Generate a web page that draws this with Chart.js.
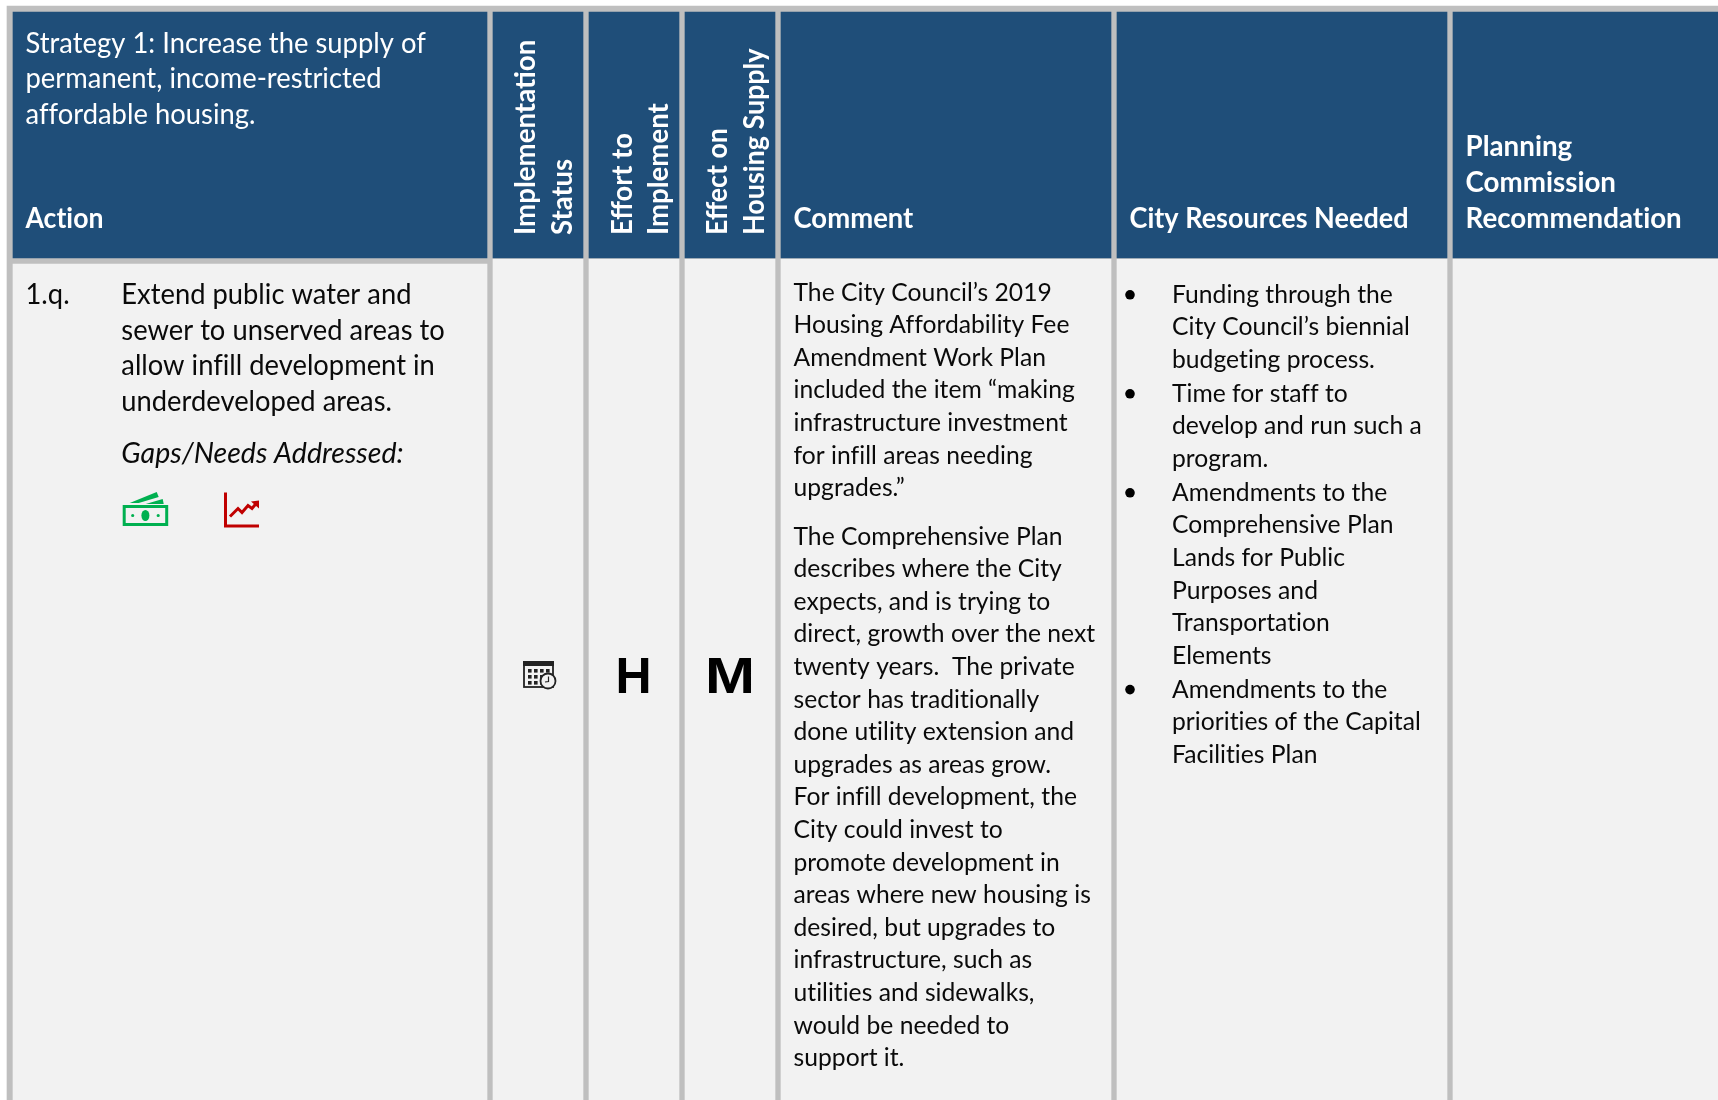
<!DOCTYPE html>
<html>
<head>
<meta charset="utf-8">
<title>Strategy 1 action table</title>
<script src="https://cdn.jsdelivr.net/npm/chart.js@4"></script>
<style>
  html, body { margin: 0; padding: 0; background: #fff; }
  canvas { display: block; }
</style>
</head>
<body>
<canvas id="tableChart" width="1718" height="1100"></canvas>
<script>
// table data
var columnLefts = [13, 493, 589, 685, 781, 1117, 1453];
var columnRights = [487, 583, 679, 775, 1111, 1447, 1718];
var headerBand = [12, 258];
var bodyBands = [[264, 1100], [259, 1100], [259, 1100], [259, 1100], [259, 1100], [259, 1100], [259, 1100]];

var strategyLines = ['Strategy 1: Increase the supply of', 'permanent, income-restricted', 'affordable housing.'];
var headerAction = ['Action'];
var headerStatus = ['Implementation', 'Status'];
var headerEffort = ['Effort to', 'Implement'];
var headerEffect = ['Effect on', 'Housing Supply'];
var headerComment = ['Comment'];
var headerResources = ['City Resources Needed'];
var headerPlanning = ['Planning', 'Commission', 'Recommendation'];

var actionNumber = '1.q.';
var actionLines = ['Extend public water and', 'sewer to unserved areas to', 'allow infill development in', 'underdeveloped areas.'];
var gapsLabel = 'Gaps/Needs Addressed:';
var effortValue = 'H';
var effectValue = 'M';

var commentFirst = ['The City Council\u2019s 2019', 'Housing Affordability Fee', 'Amendment Work Plan', 'included the item \u201Cmaking',
  'infrastructure investment', 'for infill areas needing', 'upgrades.\u201D'];
var commentSecond = ['The Comprehensive Plan', 'describes where the City', 'expects, and is trying to', 'direct, growth over the next',
  'twenty years.  The private', 'sector has traditionally', 'done utility extension and', 'upgrades as areas grow.',
  'For infill development, the', 'City could invest to', 'promote development in', 'areas where new housing is',
  'desired, but upgrades to', 'infrastructure, such as', 'utilities and sidewalks,', 'would be needed to', 'support it.'];

var resourceItems = [
  ['Funding through the', 'City Council\u2019s biennial', 'budgeting process.'],
  ['Time for staff to', 'develop and run such a', 'program.'],
  ['Amendments to the', 'Comprehensive Plan', 'Lands for Public', 'Purposes and', 'Transportation', 'Elements'],
  ['Amendments to the', 'priorities of the Capital', 'Facilities Plan']
];

var BLUE = '#1F4E79', GRID = '#BFBFBF', CELL = '#F2F2F2', INK = '#0a0a0a';

// one floating bar per cell, widths come from the column edges
function cellDataset(left, right, band, color) {
  return {
    data: [{ x: (left + right) / 2, y: band }],
    backgroundColor: color,
    barThickness: right - left,
    borderWidth: 0,
    grouped: false
  };
}

var datasets = [];
columnLefts.forEach(function(left, i) {
  datasets.push(cellDataset(left, columnRights[i], headerBand, BLUE));
  datasets.push(cellDataset(left, columnRights[i], bodyBands[i], CELL));
});
// grid behind everything (chart.js paints dataset 0 last)
datasets.push(cellDataset(7, 1718, [6, 1100], GRID));

var FONT = 'Lato, Carlito, "Noto Sans", sans-serif';

function putText(ctx, text, x, y, font, color, squeeze) {
  ctx.save();
  ctx.font = font;
  ctx.letterSpacing = '0.01px'; // stops Lato's fi/ti ligatures
  ctx.fillStyle = color;
  ctx.textBaseline = 'alphabetic';
  ctx.translate(x, y);
  ctx.scale(squeeze, 1);
  ctx.fillText(text, 0, 0);
  ctx.restore();
}

function putLines(ctx, lines, x, y, pitch, font, color, squeeze) {
  lines.forEach(function(line, i) {
    putText(ctx, line, x, y + i * pitch, font, color, squeeze);
  });
}

function putRotated(ctx, lines, xs, bottom, font, squeezes) {
  lines.forEach(function(line, i) {
    ctx.save();
    ctx.font = font;
    ctx.fillStyle = '#fff';
    ctx.translate(xs[i], bottom);
    ctx.rotate(-Math.PI / 2);
    ctx.scale(squeezes[i], 1);
    ctx.fillText(line, 0, 0);
    ctx.restore();
  });
}

function moneyIcon(ctx, x, y) {
  ctx.save();
  ctx.translate(x, y);
  ctx.strokeStyle = ctx.fillStyle = '#00B050';
  ctx.lineWidth = 3;
  ctx.strokeRect(1.5, 14.5, 42.5, 18);
  ctx.beginPath();
  ctx.ellipse(22.7, 23.5, 4, 5.5, 0, 0, Math.PI * 2);
  ctx.fill();
  ctx.beginPath();
  ctx.arc(10, 23.5, 1.6, 0, Math.PI * 2);
  ctx.arc(35.5, 23.5, 1.6, 0, Math.PI * 2);
  ctx.fill();
  ctx.beginPath();
  ctx.moveTo(7, 11); ctx.lineTo(34, 0); ctx.lineTo(36, 5); ctx.lineTo(16, 11);
  ctx.closePath();
  ctx.fill();
  ctx.beginPath();
  ctx.moveTo(23, 12); ctx.lineTo(40, 7); ctx.lineTo(41, 12);
  ctx.closePath();
  ctx.fill();
  ctx.restore();
}

function growthIcon(ctx, x, y) {
  ctx.save();
  ctx.translate(x, y);
  ctx.strokeStyle = ctx.fillStyle = '#C00000';
  ctx.lineWidth = 3;
  ctx.beginPath();
  ctx.moveTo(1.5, 0); ctx.lineTo(1.5, 33.5); ctx.lineTo(35, 33.5);
  ctx.stroke();
  ctx.beginPath();
  ctx.moveTo(6, 24); ctx.lineTo(14, 16); ctx.lineTo(18, 20); ctx.lineTo(24, 13); ctx.lineTo(28, 16); ctx.lineTo(33, 10);
  ctx.stroke();
  ctx.beginPath();
  ctx.moveTo(27, 9); ctx.lineTo(35, 8); ctx.lineTo(35, 16);
  ctx.closePath();
  ctx.fill();
  ctx.restore();
}

function calendarIcon(ctx, x, y) {
  ctx.save();
  ctx.translate(x, y);
  ctx.strokeStyle = ctx.fillStyle = '#222';
  ctx.lineWidth = 1.8;
  ctx.strokeRect(1, 1, 29, 25);
  ctx.fillRect(0, 0, 31, 5);
  for (var r = 0; r < 3; r++) {
    for (var c = 0; c < 4; c++) {
      if (r > 0 && c > 2) continue;
      ctx.fillRect(5 + c * 6, 8 + r * 6, 3.6, 3.6);
    }
  }
  ctx.beginPath();
  ctx.arc(25, 20, 7.5, 0, Math.PI * 2);
  ctx.fillStyle = CELL;
  ctx.fill();
  ctx.stroke();
  ctx.lineWidth = 1.2;
  ctx.beginPath();
  ctx.moveTo(25.5, 15.5); ctx.lineTo(25.5, 20.5); ctx.lineTo(22, 21);
  ctx.stroke();
  ctx.restore();
}

// text and icons sit on top of the cells, anchored on the x scale
var tableText = {
  id: 'tableText',
  afterDatasetsDraw: function(chart) {
    var ctx = chart.ctx;
    var sx = chart.scales.x, sy = chart.scales.y;
    function left(i, pad) { return sx.getPixelForValue(columnLefts[i]) + pad; }
    var head = '28px ' + FONT, headBold = 'bold 28px ' + FONT;
    var big = '28px ' + FONT, small = '25.4px ' + FONT;
    var headFit = 0.978, bodyFit = 0.976, smallFit = 0.972;

    putLines(ctx, strategyLines, left(0, 12.5), sy.getPixelForValue(52.8), 35.5, head, '#fff', headFit);
    putLines(ctx, headerAction, left(0, 12.5), sy.getPixelForValue(227.8), 0, headBold, '#fff', 0.95);
    putRotated(ctx, headerStatus, [535, 571.5], 235, headBold, [0.988, 0.98]);
    putRotated(ctx, headerEffort, [631.5, 668], 235, headBold, [0.975, 0.985]);
    putRotated(ctx, headerEffect, [727, 764], 235, headBold, [0.955, 0.96]);
    putLines(ctx, headerComment, left(4, 12.5), sy.getPixelForValue(227.8), 0, headBold, '#fff', 0.98);
    putLines(ctx, headerResources, left(5, 12.5), sy.getPixelForValue(227.8), 0, headBold, '#fff', 0.965);
    putLines(ctx, headerPlanning, left(6, 12.5), sy.getPixelForValue(155.8), 36, headBold, '#fff', 0.99);

    putText(ctx, actionNumber, left(0, 12.5), 304, big, INK, bodyFit);
    putLines(ctx, actionLines, left(0, 108.3), 304, 35.5, big, INK, bodyFit);
    putText(ctx, gapsLabel, left(0, 108.3), 462.6, 'italic ' + big, INK, 1.02);
    moneyIcon(ctx, 122.7, 492);
    growthIcon(ctx, 224, 492.5);
    calendarIcon(ctx, 523, 661);

    ctx.textAlign = 'center';
    putText(ctx, effortValue, sx.getPixelForValue(633.5), 693, 'bold 50px "Liberation Sans", Arial, sans-serif', '#000', 1);
    putText(ctx, effectValue, sx.getPixelForValue(730), 693, 'bold 50px "Liberation Sans", Arial, sans-serif', '#000', 1.2);
    ctx.textAlign = 'left';

    putLines(ctx, commentFirst, left(4, 12.5), 300.6, 32.6, small, INK, smallFit);
    putLines(ctx, commentSecond, left(4, 12.5), 544.6, 32.6, small, INK, smallFit);

    var baseY = 302.8;
    resourceItems.forEach(function(item) {
      ctx.fillStyle = '#000';
      ctx.beginPath();
      ctx.arc(left(5, 13), baseY - 8, 4.8, 0, Math.PI * 2);
      ctx.fill();
      putLines(ctx, item, left(5, 55), baseY, 32.6, small, INK, smallFit);
      baseY += item.length * 32.6 + 1.2;
    });
  }
};

new Chart(document.getElementById('tableChart').getContext('2d'), {
  type: 'bar',
  data: { datasets: datasets },
  plugins: [tableText],
  options: {
    responsive: false,
    animation: false,
    layout: { padding: 0 },
    plugins: { legend: { display: false }, tooltip: { enabled: false } },
    scales: {
      x: { type: 'linear', min: 0, max: 1718, display: false, offset: false },
      y: { type: 'linear', min: 0, max: 1100, reverse: true, display: false }
    }
  }
});
</script>
</body>
</html>
